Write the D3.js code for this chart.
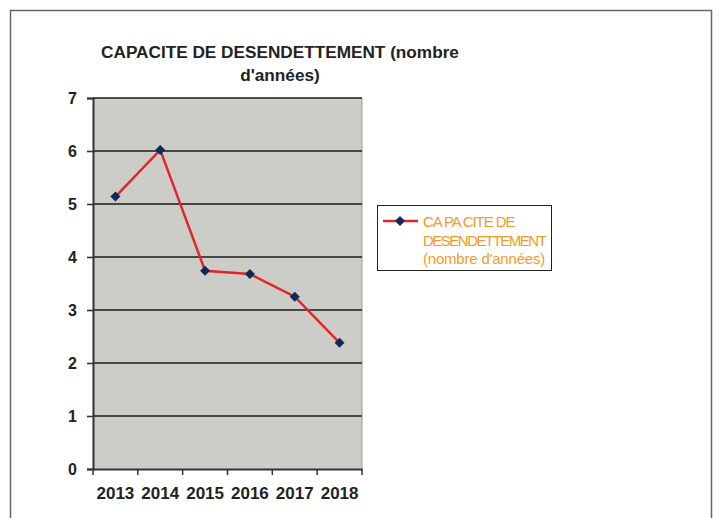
<!DOCTYPE html>
<html><head><meta charset="utf-8">
<script src="https://cdn.jsdelivr.net/npm/d3@7"></script>
<style>body{margin:0;background:#fff}svg{display:block}</style>
</head><body>
<svg id="c" width="722" height="518"></svg>
<script>
const years = ["2013","2014","2015","2016","2017","2018"];
const values = [5.14, 6.02, 3.74, 3.68, 3.25, 2.38];
const yTicks = [0,1,2,3,4,5,6,7];
const titleLines = ["CAPACITE DE DESENDETTEMENT (nombre","d'années)"];
const legendLines = ["CA PA CITE DE","DESENDETTEMENT","(nombre d'années)"];

const svg = d3.select("#c");
const m = {l:93, r:362, t:98, b:469};
const x = d3.scaleBand().domain(years).range([m.l, m.r]);
const y = d3.scaleLinear().domain([0,7]).range([m.b, m.t]);
const FF = "Liberation Sans, Arial, sans-serif";

// outer frame
svg.append("path").attr("d","M10.5,530 V10.5 H711.5 V530").attr("fill","none").attr("stroke","#666").attr("stroke-width",1.5);

// title
svg.append("g").selectAll("text").data(titleLines).join("text")
  .attr("x",280).attr("y",(d,i)=>58+i*23).attr("text-anchor","middle")
  .attr("font-family",FF).attr("font-weight","bold").attr("font-size",17.2)
  .attr("fill","#222").text(d=>d);

// plot background
svg.append("rect").attr("x",m.l).attr("y",m.t).attr("width",m.r-m.l).attr("height",m.b-m.t).attr("fill","#cdcdc8");
svg.append("line").attr("x1",m.r).attr("x2",m.r).attr("y1",m.t).attr("y2",m.b).attr("stroke","#999").attr("stroke-width",1);

// gridlines
svg.append("g").selectAll("line").data(yTicks.filter(d=>d>0)).join("line")
  .attr("x1",m.l).attr("x2",m.r).attr("y1",d=>y(d)).attr("y2",d=>y(d))
  .attr("stroke","#1a1a1a").attr("stroke-width",1.4);

// y axis
const ya = svg.append("g").attr("transform",`translate(${m.l},0)`)
  .call(d3.axisLeft(y).tickValues(yTicks).tickSize(6).tickPadding(10).tickFormat(d3.format("d")));
ya.select(".domain").attr("stroke","#333").attr("stroke-width",2);
ya.selectAll(".tick line").attr("stroke","#333").attr("stroke-width",1.6);
ya.selectAll("text").attr("font-family",FF).attr("font-weight","bold").attr("font-size",16).attr("fill","#222");

// x axis
const xa = svg.append("g").attr("transform",`translate(0,${m.b})`)
  .call(d3.axisBottom(x).tickSize(0).tickPadding(18));
xa.select(".domain").attr("stroke","#333").attr("stroke-width",2);
xa.selectAll("text").attr("font-family",FF).attr("font-weight","bold").attr("font-size",17).attr("fill","#222");
const bounds = years.map(d=>x(d)).concat([m.r]);
xa.append("g").selectAll("line").data(bounds).join("line")
  .attr("x1",d=>d).attr("x2",d=>d).attr("y1",0).attr("y2",6).attr("stroke","#333").attr("stroke-width",1.5);

// line
const cx = d=>x(d)+x.bandwidth()/2;
const line = d3.line().x((d,i)=>cx(years[i])).y(d=>y(d));
svg.append("path").datum(values).attr("d",line).attr("fill","none").attr("stroke","#e3242b").attr("stroke-width",2.5);
const diamond = d3.symbol().type(d3.symbolDiamond2).size(64);
svg.append("g").selectAll("path").data(values).join("path")
  .attr("d",diamond).attr("transform",(d,i)=>`translate(${cx(years[i])},${y(d)})`).attr("fill","#0c2b5b");

// legend
const lg = svg.append("g");
lg.append("rect").attr("x",377.5).attr("y",205.5).attr("width",174).attr("height",65).attr("fill","#fff").attr("stroke","#222").attr("stroke-width",1);
lg.append("line").attr("x1",383).attr("x2",418).attr("y1",221).attr("y2",221).attr("stroke","#e3242b").attr("stroke-width",2.5);
lg.append("path").attr("d",diamond).attr("transform","translate(400,221)").attr("fill","#0c2b5b");
lg.selectAll("text").data(legendLines).join("text")
  .attr("x",423).attr("y",(d,i)=>227+i*18.5)
  .attr("font-family",FF).attr("font-size",15).attr("letter-spacing",(d,i)=>i===0?-1.1:(i===1?-1.5:-0.2))
  .attr("fill","#f39a2a").text(d=>d);
</script>
</body></html>
